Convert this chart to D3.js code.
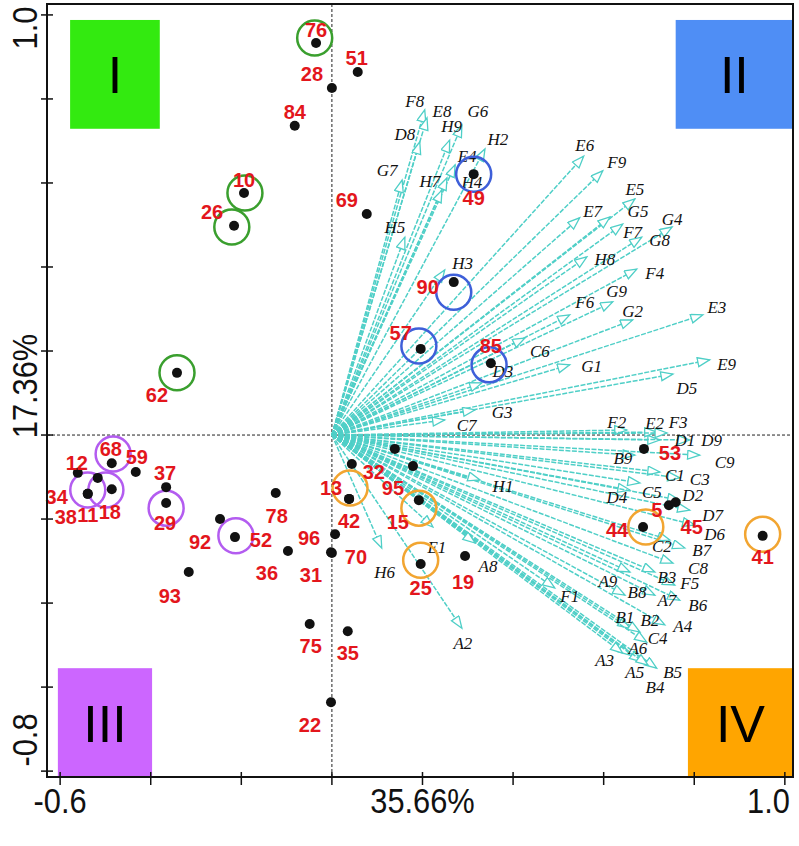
<!DOCTYPE html>
<html><head><meta charset="utf-8">
<script src="https://cdn.jsdelivr.net/npm/d3@7"></script>
<style>body{margin:0;background:#fff}</style>
</head><body><svg id="c" width="799" height="846"></svg>
<script>
// ---------- DATA ----------
const xTicks = [-0.6,-0.4,-0.2,0,0.2,0.4,0.6,0.8,1.0];
const yTicks = [-0.8,-0.6,-0.4,-0.2,0,0.2,0.4,0.6,0.8,1.0];
const xTickLabels = ["-0.6","1.0"];
const yTickLabels = ["1.0","-0.8"];
const xTitle = "35.66%";
const yTitle = "17.36%";

const varNames = ["F8","E8","G6","D8","H9","H2","E4","G7","H7","H4","H5","H3","E6","F9","E5","E7","G5","F7","G4","G8","H8","F4","G9","F6","G2","E3","C6","G1","E9","D5","D3","G3","C7","F2","E2","F3","D1","D9","B9","C9","C1","C3","D4","C5","D2","D7","D6","C2","B7","C8","B3","F5","A9","B8","A7","B6","F1","B1","B2","A4","C4","A6","A3","A5","B5","B4","H1","E1","H6","A8","A2"];
const varX = [0.205,0.210,0.287,0.194,0.260,0.338,0.272,0.155,0.254,0.243,0.161,0.249,0.556,0.598,0.669,0.547,0.614,0.642,0.751,0.684,0.563,0.673,0.620,0.525,0.664,0.819,0.426,0.525,0.834,0.753,0.331,0.316,0.249,0.651,0.717,0.740,0.724,0.790,0.669,0.812,0.724,0.768,0.658,0.680,0.768,0.790,0.801,0.746,0.779,0.753,0.713,0.757,0.658,0.647,0.713,0.768,0.492,0.658,0.680,0.735,0.695,0.658,0.642,0.684,0.717,0.698,0.327,0.223,0.110,0.316,0.287];
const varY = [0.774,0.755,0.738,0.698,0.702,0.681,0.643,0.607,0.612,0.583,0.471,0.393,0.664,0.629,0.562,0.517,0.519,0.502,0.495,0.471,0.424,0.395,0.317,0.286,0.274,0.286,0.231,0.167,0.179,0.145,0.124,0.060,0.036,0.012,0.007,0.005,-0.012,-0.012,-0.048,-0.048,-0.088,-0.102,-0.131,-0.114,-0.155,-0.179,-0.214,-0.250,-0.269,-0.305,-0.326,-0.357,-0.326,-0.381,-0.381,-0.393,-0.364,-0.460,-0.469,-0.452,-0.493,-0.524,-0.519,-0.540,-0.555,-0.548,-0.107,-0.219,-0.269,-0.257,-0.460];

const sampleIds = ["76","51","28","84","10","26","69","62","49","90","57","85","53","5","45","44","41","13","42","32","","95","15","25","19","96","70","31","78","52","92","36","93","75","35","22","68","59","12","34","38","11","18","37","29"];
const sampleX = [-0.035,0.057,0.000,-0.082,-0.194,-0.216,0.077,-0.342,0.313,0.269,0.196,0.351,0.689,0.744,0.759,0.687,0.951,0.038,0.038,0.044,0.139,0.179,0.192,0.196,0.294,0.007,0.000,-0.002,-0.124,-0.214,-0.247,-0.097,-0.316,-0.049,0.035,-0.002,-0.486,-0.433,-0.561,-0.517,-0.539,-0.539,-0.486,-0.366,-0.366];
const sampleY = [0.933,0.864,0.826,0.736,0.576,0.498,0.526,0.148,0.621,0.364,0.205,0.171,-0.033,-0.167,-0.160,-0.219,-0.240,-0.152,-0.152,-0.069,-0.033,-0.074,-0.155,-0.307,-0.288,-0.236,-0.281,-0.279,-0.138,-0.243,-0.200,-0.276,-0.326,-0.450,-0.467,-0.636,-0.067,-0.088,-0.090,-0.102,-0.140,-0.140,-0.129,-0.124,-0.162];

const groupNames = ["I","II","III","IV"];
const ringGroup = ["I","I","I","I","II","II","II","II","IV","IV","IV","IV","IV","III","III","III","III","III"];
const ringX = [-0.038,-0.192,-0.221,-0.342,0.313,0.269,0.192,0.347,0.040,0.192,0.196,0.693,0.951,-0.483,-0.539,-0.499,-0.366,-0.212];
const ringY = [0.945,0.576,0.495,0.148,0.621,0.340,0.212,0.167,-0.126,-0.174,-0.298,-0.219,-0.236,-0.045,-0.131,-0.131,-0.174,-0.240];

// ---------- LAYOUT / STYLE ----------
const boxFill = {I:"#33ea10", II:"#4f8ef5", III:"#cc66ff", IV:"#ffa500"};
const ringColor = {I:"#3a9f2e", II:"#3e5fd9", III:"#b35cf0", IV:"#f2a531"};
const boxExtent = {I:[-0.578,-0.380,0.988,0.729], II:[0.759,1.018,0.988,0.729], III:[-0.605,-0.397,-0.555,-0.814], IV:[0.786,1.018,-0.555,-0.814]};
const varNudge = {F8:[-10,-8],E8:[15,-6],G6:[16,-13],D8:[-15,-7],H9:[2,-14],H2:[13,-9],E4:[12,-8],G7:[-15,-10],H7:[-17,4],H4:[30,-8],H5:[-10,-10],H3:[18,-6],E6:[1,-11],F9:[14,-8],E5:[0,-9],E7:[13,-6],G5:[28,-5],F7:[10,8],G4:[0,-8],G8:[18,3],H8:[18,3],F4:[18,4],G9:[4,-10],F6:[15,-12],G2:[0,-8],E3:[14,-7],C6:[15,14],G1:[22,2],E9:[17,5],D5:[14,14],D3:[21,-11],G3:[27,3],C7:[22,6],F2:[-10,-7],E2:[-2,-9],F3:[11,-10],D1:[25,0],D9:[22,0],B9:[-12,3],C9:[25,7],C1:[15,3],C3:[20,2],D4:[-13,7],C5:[12,10],D2:[13,-5],D7:[23,5],D6:[20,10],C2:[-8,6],B7:[17,2],C8:[25,5],B3:[12,6],F5:[15,-2],A9:[-22,10],B8:[12,-3],A7:[12,5],B6:[18,5],F1:[15,9],B1:[-5,-11],B2:[10,-12],A4:[18,2],C4:[11,-4],A6:[8,-7],A3:[-18,7],A5:[-7,11],B5:[16,4],B4:[7,22],H1:[23,7],E1:[4,20],H6:[3,24],A8:[13,24],A2:[1,15]};
const sampleNudge = {"76":[0,-13],"51":[-1,-14],"28":[-20,-14],"84":[0,-14],"10":[0,-13],"26":[-22,-14],"69":[-20,-14],"62":[-20,22],"49":[0,24],"90":[-26,5],"57":[-20,-16],"85":[0,-17],"53":[26,4],"5":[-12,5],"45":[16,25],"44":[-26,3],"41":[0,21],"13":[-18,-11],"42":[0,22],"32":[22,8],"95":[-20,22],"15":[-21,22],"25":[0,24],"19":[-2,26],"96":[-26,4],"70":[24,4],"31":[-20,23],"78":[1,23],"52":[26,3],"92":[-20,23],"36":[-21,22],"93":[-19,24],"75":[1,22],"35":[0,22],"22":[-21,23],"68":[-1,-14],"59":[1,-15],"12":[-1,-10],"34":[-41,19],"38":[-22,23],"11":[0,21],"18":[-2,23],"37":[-1,-14],"29":[-1,20]};

const arrowColor = "#4fcfc7";
const sans = "'Liberation Sans', Arial, sans-serif";
const serif = "'Liberation Serif', 'Times New Roman', serif";

// ---------- SCALES ----------
const svg = d3.select("#c");
const x = d3.scaleLinear().domain([-0.629, 1.018]).range([47, 793]);
const y = d3.scaleLinear().domain([-0.814, 1.026]).range([777, 4]);

// quadrant boxes
const gBox = svg.append("g");
groupNames.forEach(g => {
  const e = boxExtent[g];
  gBox.append("rect").attr("x", x(e[0])).attr("y", y(e[2]))
    .attr("width", x(e[1]) - x(e[0])).attr("height", y(e[3]) - y(e[2]))
    .attr("fill", boxFill[g]);
  gBox.append("text").attr("x", (x(e[0]) + x(e[1])) / 2).attr("y", (y(e[2]) + y(e[3])) / 2 + 19)
    .attr("text-anchor", "middle").attr("font-family", sans).attr("font-size", 52)
    .attr("fill", "#000").text(g);
});

// zero lines
svg.append("line").attr("x1", x(0)).attr("x2", x(0)).attr("y1", y(1.026)).attr("y2", y(-0.814))
  .attr("stroke", "#222").attr("stroke-width", 1).attr("stroke-dasharray", "3,2");
svg.append("line").attr("x1", x(-0.629)).attr("x2", x(1.018)).attr("y1", y(0)).attr("y2", y(0))
  .attr("stroke", "#222").attr("stroke-width", 1).attr("stroke-dasharray", "3,2");

// arrow marker
svg.append("defs").append("marker").attr("id", "ah")
  .attr("markerUnits", "userSpaceOnUse").attr("markerWidth", 15).attr("markerHeight", 12)
  .attr("refX", 13).attr("refY", 5).attr("orient", "auto")
  .append("path").attr("d", "M1,0.5 L13,5 L1,9.5 Z")
  .attr("fill", "#fff").attr("stroke", arrowColor).attr("stroke-width", 1.3);

const vars = varNames.map((n, i) => ({n, vx: varX[i], vy: varY[i]}));
svg.append("g").selectAll("line").data(vars).join("line")
  .attr("x1", x(0)).attr("y1", y(0))
  .attr("x2", d => x(d.vx)).attr("y2", d => y(d.vy))
  .attr("stroke", arrowColor).attr("stroke-width", 1.5)
  .attr("stroke-dasharray", "5,1.5")
  .attr("marker-end", "url(#ah)");

svg.append("g").selectAll("text").data(vars).join("text")
  .attr("x", d => x(d.vx) + varNudge[d.n][0])
  .attr("y", d => y(d.vy) + varNudge[d.n][1])
  .attr("text-anchor", "middle").attr("dominant-baseline", "central")
  .attr("font-family", serif).attr("font-style", "italic").attr("font-size", 17)
  .attr("fill", "#111").text(d => d.n);

// rings
const rings = ringGroup.map((g, i) => ({g, rx: ringX[i], ry: ringY[i]}));
svg.append("g").selectAll("circle").data(rings).join("circle")
  .attr("cx", d => x(d.rx)).attr("cy", d => y(d.ry)).attr("r", 17.5)
  .attr("fill", "none").attr("stroke", d => ringColor[d.g]).attr("stroke-width", 2.5);

// samples
const samples = sampleIds.map((id, i) => ({id, sx: sampleX[i], sy: sampleY[i]}));
svg.append("g").selectAll("circle").data(samples).join("circle")
  .attr("cx", d => x(d.sx)).attr("cy", d => y(d.sy)).attr("r", 5).attr("fill", "#111");
svg.append("g").selectAll("text").data(samples.filter(d => d.id !== "")).join("text")
  .attr("x", d => x(d.sx) + sampleNudge[d.id][0])
  .attr("y", d => y(d.sy) + sampleNudge[d.id][1])
  .attr("text-anchor", "middle").attr("dominant-baseline", "central")
  .attr("font-family", sans).attr("font-weight", "bold").attr("font-size", 20)
  .attr("fill", "#e3161c").text(d => d.id);

// frame
svg.append("rect").attr("x", 47).attr("y", 4).attr("width", 746).attr("height", 773)
  .attr("fill", "none").attr("stroke", "#111").attr("stroke-width", 2);

// ticks
svg.append("g").selectAll("line").data(xTicks).join("line")
  .attr("x1", d => x(d)).attr("x2", d => x(d)).attr("y1", 772).attr("y2", 785)
  .attr("stroke", "#111").attr("stroke-width", 1.5);
svg.append("g").selectAll("line").data(yTicks).join("line")
  .attr("y1", d => y(d)).attr("y2", d => y(d)).attr("x1", 41).attr("x2", 53)
  .attr("stroke", "#111").attr("stroke-width", 1.5);

// tick labels (condensed look)
function xText(t, px, anchor) {
  svg.append("text").attr("transform", `translate(${px},813) scale(0.88,1)`)
    .attr("text-anchor", anchor).attr("font-family", sans).attr("font-size", 35)
    .attr("fill", "#111").text(t);
}
xText(xTickLabels[0], x(-0.6), "middle");
xText(xTickLabels[1], x(1.0) + 5, "end");
xText(xTitle, x(0.2), "middle");

function yText(t, cy) {
  svg.append("text").attr("transform", `translate(37,${cy}) rotate(-90) scale(0.88,1)`)
    .attr("text-anchor", "middle").attr("font-family", sans).attr("font-size", 35)
    .attr("fill", "#111").text(t);
}
yText(yTickLabels[0], 28);
yText(yTitle, 386);
yText(yTickLabels[1], 740);
</script>
</body></html>
